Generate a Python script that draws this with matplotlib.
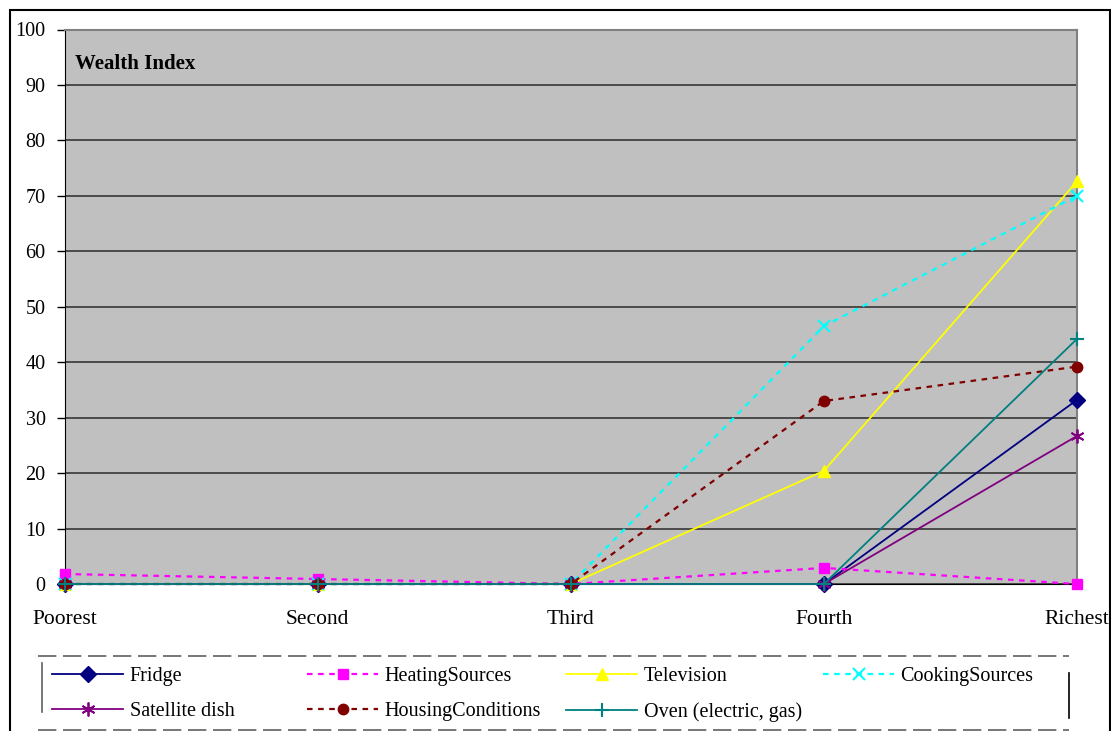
import matplotlib.pyplot as plt
from matplotlib.lines import Line2D
from matplotlib.patches import Rectangle

plt.rcParams['font.family'] = ['Liberation Serif', 'DejaVu Serif']

# wealth quintiles and share of households (%) per indicator
categories = ['Poorest', 'Second', 'Third', 'Fourth', 'Richest']
fridge = [0, 0, 0, 0, 33.2]
heating = [1.8, 0.9, 0, 2.9, 0]
television = [0, 0, 0, 20.4, 72.6]
cooking = [0, 0, 0, 46.5, 70.0]
satellite = [0, 0, 0, 0, 26.7]
housing = [0, 0, 0, 33.0, 39.2]
oven = [0, 0, 0, 0, 44.2]

W, H = 1111, 731


def fx(px):
    return px / W


def fy(py):
    return 1 - py / H


fig = plt.figure(figsize=(W / 100, H / 100), dpi=100)
ax = fig.add_axes([fx(64.5), fy(584), (1077 - 64.5) / W, (584 - 29.5) / H])
ax.set_facecolor('#c0c0c0')

x = range(len(categories))
dash = (0, (2.5, 2.5))
kw = dict(clip_on=False, zorder=3)
l_fridge, = ax.plot(x, fridge, color='#000080', lw=1.3, marker='D', ms=8,
                    label='Fridge', **kw)
l_heat, = ax.plot(x, heating, color='#ff00ff', lw=1.6, ls=dash, marker='s', ms=7.5,
                  label='HeatingSources', **kw)
l_tv, = ax.plot(x, television, color='#ffff00', lw=1.3, marker='^', ms=9,
                label='Television', **kw)
l_cook, = ax.plot(x, cooking, color='#00ffff', lw=1.6, ls=dash, marker='x', ms=9, mew=1.5,
                  label='CookingSources', **kw)
l_sat, = ax.plot(x, satellite, color='#800080', lw=1.3, marker=(6, 2, 0), ms=10, mew=1.3,
                 label='Satellite dish', **kw)
l_house, = ax.plot(x, housing, color='#800000', lw=1.6, ls=dash, marker='o', ms=7.5,
                   label='HousingConditions', **kw)
l_oven, = ax.plot(x, oven, color='#008080', lw=1.3, marker='+', ms=10, mew=1.5,
                  label='Oven (electric, gas)', **kw)

ax.set_xlim(0, 4)
ax.set_ylim(0, 100)
ax.set_yticks(range(0, 101, 10))
ax.set_xticks(list(x))
ax.set_xticklabels(categories, fontsize=15.5)
ax.tick_params(axis='y', length=5.5, width=1, labelsize=14.5, pad=8)
ax.tick_params(axis='x', length=0, pad=18.5)
ax.yaxis.grid(True, color='#2a2a2a', lw=1.1)
ax.set_axisbelow(True)

for side in ['top', 'right']:
    ax.spines[side].set_color('#808080')
    ax.spines[side].set_linewidth(1.5)
ax.spines['left'].set_color('black')
ax.spines['bottom'].set_color('black')

ax.text(0.0105, 0.937, 'Wealth Index', transform=ax.transAxes, fontsize=15,
        fontweight='bold', va='center', ha='left')

# legend: one frameless legend per column, uneven column widths
columns = [(52, [l_fridge, l_sat]), (307, [l_heat, l_house]),
           (566, [l_tv, l_oven]), (823, [l_cook])]
for left, hs in columns:
    leg = fig.legend(handles=hs, labels=[h.get_label() for h in hs],
                     loc='upper left', bbox_to_anchor=(fx(left), fy(667)),
                     fontsize=14.5, handlelength=3.55, handletextpad=0.3,
                     labelspacing=0.8, borderpad=0, borderaxespad=0, frameon=False)
    for line in leg.get_lines():
        line.set_clip_on(False)

gray = '#606060'
for py in (656, 730):
    fig.add_artist(Line2D([fx(38), fx(1069)], [fy(py), fy(py)], color=gray, lw=1.2,
                          ls=(0, (11, 4)), transform=fig.transFigure))
fig.add_artist(Line2D([fx(42), fx(42)], [fy(663), fy(712)], color=gray, lw=1.2,
                      transform=fig.transFigure))
fig.add_artist(Line2D([fx(1069), fx(1069)], [fy(673), fy(718)], color='black', lw=1.2,
                      transform=fig.transFigure))

# chart border
fig.patches.append(Rectangle((fx(10), -0.05), fx(1100), 1.05 - 10 / H,
                             transform=fig.transFigure, fill=False,
                             edgecolor='black', lw=1.5))

fig.savefig('out.png', dpi=100)
